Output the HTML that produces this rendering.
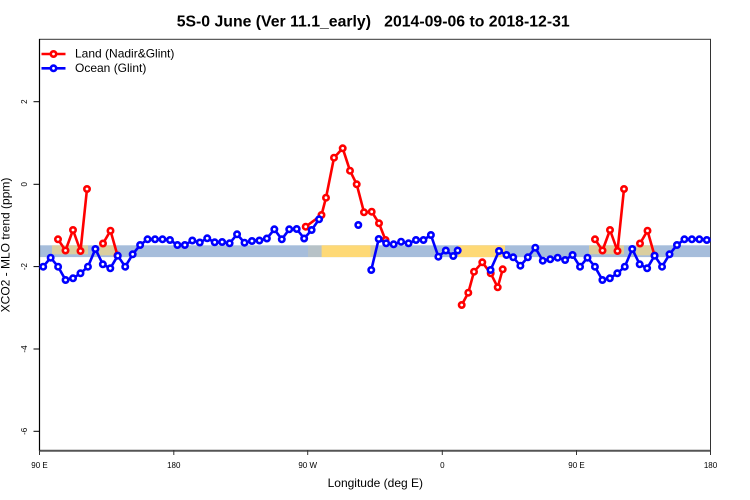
<!DOCTYPE html>
<html><head><meta charset="utf-8"><style>
html,body{margin:0;padding:0;background:#fff;}
svg{display:block;}
text{font-family:"Liberation Sans",Arial,sans-serif;}
</style></head><body>
<svg width="750" height="500" viewBox="0 0 750 500" xmlns="http://www.w3.org/2000/svg">
<rect width="750" height="500" fill="#fff"/>
<!-- title -->
<text x="176.7" y="26.5" font-size="16" font-weight="bold" textLength="393" lengthAdjust="spacingAndGlyphs" xml:space="preserve" fill="#000">5S-0 June (Ver 11.1_early)   2014-09-06 to 2018-12-31</text>

<!-- band -->
<rect x="39.5" y="245.3" width="671" height="11.8" fill="#a6bddb"/>
<rect x="321.5" y="245.3" width="49" height="11.8" fill="#fed976"/>
<rect x="370.5" y="245.3" width="6" height="11.8" fill="#fed976" opacity="0.5"/>
<rect x="308" y="245.3" width="13" height="11.8" fill="#fed976" opacity="0.2"/>
<rect x="458" y="245.3" width="47" height="11.8" fill="#fed976"/>
<rect x="52" y="245.3" width="36" height="9" fill="#fed976" opacity="0.6"/>
<rect x="99" y="245.3" width="17" height="10" fill="#fed976" opacity="0.6"/>
<rect x="589" y="245.3" width="35" height="9" fill="#fed976" opacity="0.6"/>
<rect x="636" y="245.3" width="18" height="10" fill="#fed976" opacity="0.6"/>

<!-- frame -->
<rect x="39.5" y="39.3" width="671" height="411.4" fill="none" stroke="#333" stroke-width="1"/>
<line x1="39" y1="450.7" x2="711" y2="450.7" stroke="#555" stroke-width="2"/>
<line x1="39.5" y1="39" x2="39.5" y2="451" stroke="#000" stroke-width="1.2"/>

<!-- y ticks -->
<g stroke="#000" stroke-width="1">
<line x1="33.5" y1="101.7" x2="39.5" y2="101.7"/>
<line x1="33.5" y1="184.3" x2="39.5" y2="184.3"/>
<line x1="33.5" y1="266.6" x2="39.5" y2="266.6"/>
<line x1="33.5" y1="349" x2="39.5" y2="349"/>
<line x1="33.5" y1="431.3" x2="39.5" y2="431.3"/>
</g>
<g font-size="8" fill="#000" text-anchor="middle">
<text transform="translate(27,101.7) rotate(-90)">2</text>
<text transform="translate(27,184.3) rotate(-90)">0</text>
<text transform="translate(27,266.6) rotate(-90)">-2</text>
<text transform="translate(27,349) rotate(-90)">-4</text>
<text transform="translate(27,431.3) rotate(-90)">-6</text>
</g>
<!-- x ticks -->
<g stroke="#333" stroke-width="1">
<line x1="39.5" y1="450" x2="39.5" y2="455"/>
<line x1="173.8" y1="450" x2="173.8" y2="455"/>
<line x1="307.7" y1="450" x2="307.7" y2="455"/>
<line x1="442.3" y1="450" x2="442.3" y2="455"/>
<line x1="576.5" y1="450" x2="576.5" y2="455"/>
<line x1="710.5" y1="450" x2="710.5" y2="455"/>
</g>
<g font-size="8" fill="#000" text-anchor="middle">
<text x="39.5" y="468">90 E</text>
<text x="173.8" y="468">180</text>
<text x="307.7" y="468">90 W</text>
<text x="442.3" y="468">0</text>
<text x="576.5" y="468">90 E</text>
<text x="710.5" y="468">180</text>
</g>
<text x="375.3" y="487" font-size="12" text-anchor="middle" fill="#000">Longitude (deg E)</text>
<text transform="translate(9.5,245) rotate(-90)" font-size="12" text-anchor="middle" fill="#000">XCO2 - MLO trend (ppm)</text>

<!-- legend -->
<line x1="41.5" y1="54" x2="65.5" y2="54" stroke="#f00" stroke-width="2.6"/>
<circle cx="53.5" cy="54" r="2.7" fill="#fff" stroke="#f00" stroke-width="2.6"/>
<text x="75" y="57.5" font-size="12" fill="#000">Land (Nadir&amp;Glint)</text>
<line x1="41.5" y1="68.3" x2="65.5" y2="68.3" stroke="#00f" stroke-width="2.6"/>
<circle cx="53.5" cy="68.3" r="2.7" fill="#fff" stroke="#00f" stroke-width="2.6"/>
<text x="75" y="72.2" font-size="12" fill="#000">Ocean (Glint)</text>

<!-- red (land) -->
<g fill="none" stroke="#f00" stroke-width="2.6" stroke-linejoin="round">
<polyline points="58,239.3 65.5,250.5 73,230 80.5,251 87,189"/>
<polyline points="103,243.5 110.5,230.7 117.5,255.5"/>
<polyline points="305.7,226.7 321.5,215 326,197.7 334,157.7 342.7,148.3 350,170.7 356.7,184.3 364,212.3 371.7,211.7 379,223.3 385.5,240"/>
<polyline points="461.7,305 468.3,292.7 474,271.7 482.3,262.3 490.7,273.3 497.7,287.3 502.7,269.3"/>
<polyline points="595,239.3 602.5,250.5 610,230 617.5,251 624,189"/>
<polyline points="640,243.5 647.5,230.7 654.5,255.5"/>
</g>
<g fill="#fff" stroke="#f00" stroke-width="2.6">
<circle cx="58" cy="239.3" r="2.7"/><circle cx="65.5" cy="250.5" r="2.7"/><circle cx="73" cy="230" r="2.7"/><circle cx="80.5" cy="251" r="2.7"/><circle cx="87" cy="189" r="2.7"/>
<circle cx="103" cy="243.5" r="2.7"/><circle cx="110.5" cy="230.7" r="2.7"/><circle cx="117.5" cy="255.5" r="2.7"/>
<circle cx="305.7" cy="226.7" r="2.7"/><circle cx="321.5" cy="215" r="2.7"/><circle cx="326" cy="197.7" r="2.7"/><circle cx="334" cy="157.7" r="2.7"/><circle cx="342.7" cy="148.3" r="2.7"/><circle cx="350" cy="170.7" r="2.7"/><circle cx="356.7" cy="184.3" r="2.7"/><circle cx="364" cy="212.3" r="2.7"/><circle cx="371.7" cy="211.7" r="2.7"/><circle cx="379" cy="223.3" r="2.7"/><circle cx="385.5" cy="240" r="2.7"/>
<circle cx="461.7" cy="305" r="2.7"/><circle cx="468.3" cy="292.7" r="2.7"/><circle cx="474" cy="271.7" r="2.7"/><circle cx="482.3" cy="262.3" r="2.7"/><circle cx="490.7" cy="273.3" r="2.7"/><circle cx="497.7" cy="287.3" r="2.7"/><circle cx="502.7" cy="269.3" r="2.7"/>
<circle cx="595" cy="239.3" r="2.7"/><circle cx="602.5" cy="250.5" r="2.7"/><circle cx="610" cy="230" r="2.7"/><circle cx="617.5" cy="251" r="2.7"/><circle cx="624" cy="189" r="2.7"/>
<circle cx="640" cy="243.5" r="2.7"/><circle cx="647.5" cy="230.7" r="2.7"/><circle cx="654.5" cy="255.5" r="2.7"/>
</g>

<!-- blue (ocean) -->
<g fill="none" stroke="#00f" stroke-width="2.6" stroke-linejoin="round">
<polyline points="43.2,266.7 50.66,257.7 58.11,266.7 65.57,280 73.02,278.3 80.48,273.3 87.94,266.7 95.39,249 102.85,264.3 110.3,268.3 117.76,255.7 125.22,266.7 132.67,254.3 140.13,245 147.58,239.3 155.04,239.3 162.5,239.3 169.95,240 177.41,245 184.86,245 192.32,240.5 199.78,242.5 207.23,238.3 214.69,242.3 222.14,242 229.6,243.3 237.06,234.3 244.51,242.7 251.97,241 259.42,240.5 266.88,238.5 274.34,229.3 281.79,239.3 289.25,229.3 296.7,229 304.16,238.5 311.62,230 319.07,219.3"/>
<polyline points="371.26,270 378.72,239 386.18,243.3 393.63,244.3 401.09,241.7 408.54,243.3 416,240 423.46,240 430.91,235 438.37,256.7 445.82,250.5 453.28,256 457.7,250.5"/>
<polyline points="490.56,270 499,251 506.5,255 513.2,257.3 520.38,265.7 527.84,257.3 535.3,247.7 542.75,260.7 550.21,259.3 557.66,257.7 565.12,260 572.58,255 580.03,266.7 587.49,257.7 594.95,266.7 602.4,280 609.86,278.3 617.32,273.3 624.77,266.7 632.23,249 639.68,264.3 647.14,268.3 654.6,255.7 662.05,266.7 669.51,254.3 676.96,245 684.42,239.3 691.88,239.3 699.33,239.3 706.79,240"/>
</g>
<g fill="#fff" stroke="#00f" stroke-width="2.6">
<circle cx="43.2" cy="266.7" r="2.7"/><circle cx="50.66" cy="257.7" r="2.7"/><circle cx="58.11" cy="266.7" r="2.7"/><circle cx="65.57" cy="280" r="2.7"/><circle cx="73.02" cy="278.3" r="2.7"/><circle cx="80.48" cy="273.3" r="2.7"/><circle cx="87.94" cy="266.7" r="2.7"/><circle cx="95.39" cy="249" r="2.7"/><circle cx="102.85" cy="264.3" r="2.7"/><circle cx="110.3" cy="268.3" r="2.7"/><circle cx="117.76" cy="255.7" r="2.7"/><circle cx="125.22" cy="266.7" r="2.7"/><circle cx="132.67" cy="254.3" r="2.7"/><circle cx="140.13" cy="245" r="2.7"/><circle cx="147.58" cy="239.3" r="2.7"/><circle cx="155.04" cy="239.3" r="2.7"/><circle cx="162.5" cy="239.3" r="2.7"/><circle cx="169.95" cy="240" r="2.7"/><circle cx="177.41" cy="245" r="2.7"/><circle cx="184.86" cy="245" r="2.7"/><circle cx="192.32" cy="240.5" r="2.7"/><circle cx="199.78" cy="242.5" r="2.7"/><circle cx="207.23" cy="238.3" r="2.7"/><circle cx="214.69" cy="242.3" r="2.7"/><circle cx="222.14" cy="242" r="2.7"/><circle cx="229.6" cy="243.3" r="2.7"/><circle cx="237.06" cy="234.3" r="2.7"/><circle cx="244.51" cy="242.7" r="2.7"/><circle cx="251.97" cy="241" r="2.7"/><circle cx="259.42" cy="240.5" r="2.7"/><circle cx="266.88" cy="238.5" r="2.7"/><circle cx="274.34" cy="229.3" r="2.7"/><circle cx="281.79" cy="239.3" r="2.7"/><circle cx="289.25" cy="229.3" r="2.7"/><circle cx="296.7" cy="229" r="2.7"/><circle cx="304.16" cy="238.5" r="2.7"/><circle cx="311.62" cy="230" r="2.7"/><circle cx="319.07" cy="219.3" r="2.7"/>
<circle cx="358.3" cy="225" r="2.7"/>
<circle cx="371.26" cy="270" r="2.7"/><circle cx="378.72" cy="239" r="2.7"/><circle cx="386.18" cy="243.3" r="2.7"/><circle cx="393.63" cy="244.3" r="2.7"/><circle cx="401.09" cy="241.7" r="2.7"/><circle cx="408.54" cy="243.3" r="2.7"/><circle cx="416" cy="240" r="2.7"/><circle cx="423.46" cy="240" r="2.7"/><circle cx="430.91" cy="235" r="2.7"/><circle cx="438.37" cy="256.7" r="2.7"/><circle cx="445.82" cy="250.5" r="2.7"/><circle cx="453.28" cy="256" r="2.7"/><circle cx="457.7" cy="250.5" r="2.7"/>
<circle cx="490.56" cy="270" r="2.7"/><circle cx="499" cy="251" r="2.7"/><circle cx="506.5" cy="255" r="2.7"/><circle cx="513.2" cy="257.3" r="2.7"/><circle cx="520.38" cy="265.7" r="2.7"/><circle cx="527.84" cy="257.3" r="2.7"/><circle cx="535.3" cy="247.7" r="2.7"/><circle cx="542.75" cy="260.7" r="2.7"/><circle cx="550.21" cy="259.3" r="2.7"/><circle cx="557.66" cy="257.7" r="2.7"/><circle cx="565.12" cy="260" r="2.7"/><circle cx="572.58" cy="255" r="2.7"/><circle cx="580.03" cy="266.7" r="2.7"/><circle cx="587.49" cy="257.7" r="2.7"/><circle cx="594.95" cy="266.7" r="2.7"/><circle cx="602.4" cy="280" r="2.7"/><circle cx="609.86" cy="278.3" r="2.7"/><circle cx="617.32" cy="273.3" r="2.7"/><circle cx="624.77" cy="266.7" r="2.7"/><circle cx="632.23" cy="249" r="2.7"/><circle cx="639.68" cy="264.3" r="2.7"/><circle cx="647.14" cy="268.3" r="2.7"/><circle cx="654.6" cy="255.7" r="2.7"/><circle cx="662.05" cy="266.7" r="2.7"/><circle cx="669.51" cy="254.3" r="2.7"/><circle cx="676.96" cy="245" r="2.7"/><circle cx="684.42" cy="239.3" r="2.7"/><circle cx="691.88" cy="239.3" r="2.7"/><circle cx="699.33" cy="239.3" r="2.7"/><circle cx="706.79" cy="240" r="2.7"/>
</g>
</svg>
</body></html>
